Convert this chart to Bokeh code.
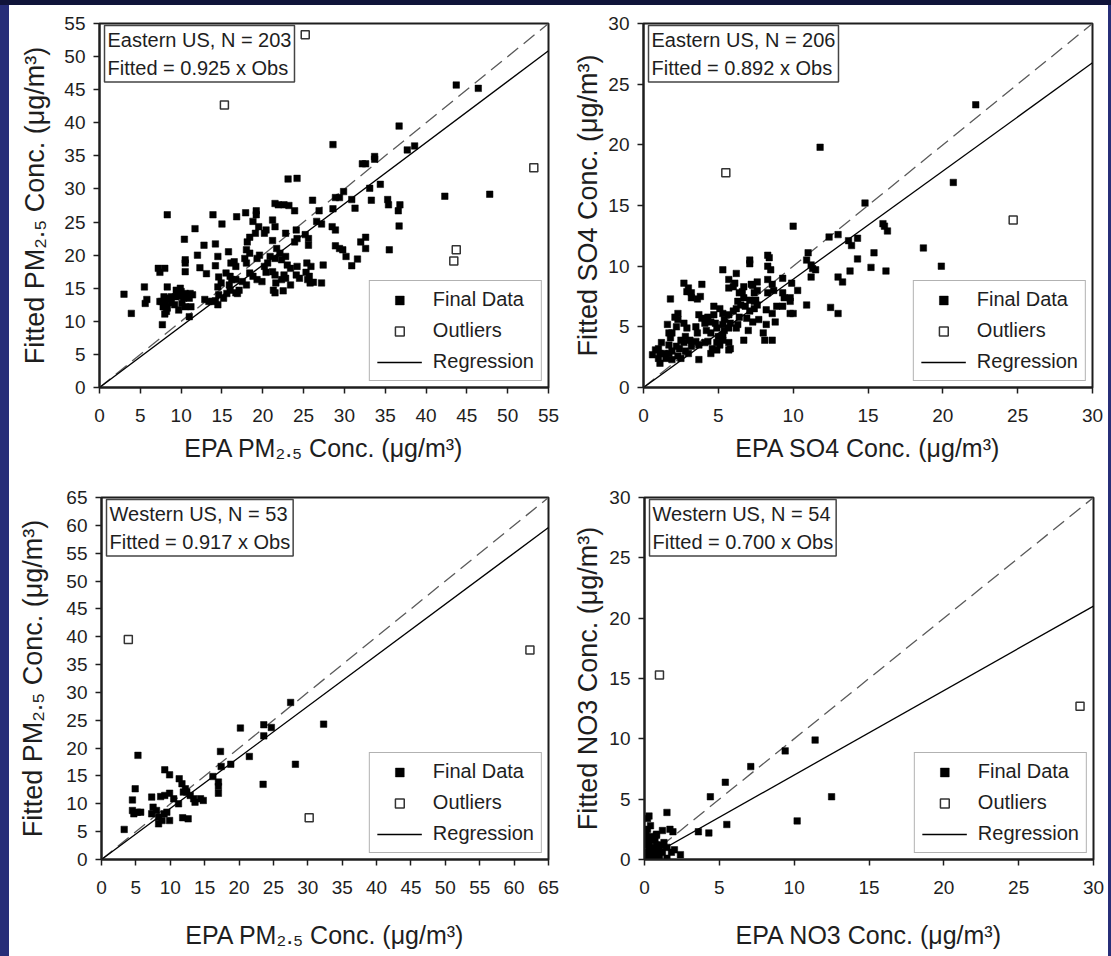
from bokeh.plotting import figure
from bokeh.layouts import column, row
from bokeh.models import (Range1d, FixedTicker, Label, Legend, LegendItem,
                          GlobalInlineStyleSheet)
from bokeh.embed import file_html
from bokeh.resources import INLINE

FONT = "Liberation Sans"

# ---------------- Panel A: Eastern US PM2.5 ----------------
pm_east_x = [43.7, 46.4, 36.7, 28.6, 37.7, 38.6, 33.7, 33.7, 32.2, 32.6,
             23.1, 24.2, 34.4, 33.1, 29.9, 47.8, 42.3, 28.9, 29.4, 30.9,
             26.1, 35.3, 33.3, 35.4, 36.8, 36.6, 31.3, 28.6, 26.9, 21.5,
             21.9, 22.6, 23.2, 23.9, 13.9, 8.3, 16.8, 17.9, 19.2, 19.2,
             15.0, 11.7, 21.2, 26.6, 27.2, 28.5, 28.9, 36.7, 21.5, 18.8,
             19.5, 20.4, 19.1, 20.2, 22.8, 24.1, 25.2, 24.2, 23.9, 18.4,
             18.1, 21.2, 25.6, 25.6, 32.6, 32.0, 10.4, 12.8, 14.2, 15.8,
             28.9, 29.4, 29.8, 32.6, 35.5, 21.7, 22.1, 18.0, 18.4, 22.8,
             22.3, 20.9, 21.5, 19.6, 19.3, 12.0, 14.5, 10.5, 10.5, 30.2,
             31.6, 30.9, 27.4, 16.1, 16.7, 17.8, 18.0, 14.2, 16.5, 20.2,
             20.6, 23.0, 23.4, 24.2, 25.4, 25.9, 12.3, 7.2, 8.0, 10.5,
             7.4, 13.1, 15.5, 16.0, 16.7, 18.4, 18.8, 19.3, 20.4, 21.2,
             21.5, 22.6, 22.8, 22.3, 24.1, 24.5, 25.3, 25.7, 25.5, 25.8,
             27.2, 26.2, 23.4, 19.9, 21.6, 14.6, 14.9, 14.5, 15.9, 16.2,
             17.5, 18.0, 17.1, 16.9, 15.6, 16.0, 16.7, 21.3, 21.5, 22.5,
             14.6, 14.2, 14.5, 15.2, 12.9, 13.4, 13.8, 11.1, 10.5, 10.0,
             9.9, 9.4, 8.3, 5.5, 3.0, 3.9, 5.8, 5.6, 7.9, 8.3,
             7.4, 8.8, 9.3, 9.6, 10.0, 10.3, 11.0, 11.4, 7.6, 8.1,
             7.8, 8.3, 8.2, 8.8, 9.2, 10.1, 10.5, 11.2, 11.0, 7.7,
             8.0, 9.7]
pm_east_y = [45.7, 45.2, 39.5, 36.7, 35.9, 36.5, 34.9, 34.5, 33.8, 33.8,
             31.5, 31.6, 30.7, 30.1, 29.6, 29.2, 28.9, 28.7, 28.7, 28.4,
             28.3, 28.4, 28.3, 27.6, 27.6, 26.7, 27.1, 27.0, 26.7, 27.8,
             27.6, 27.6, 27.5, 26.7, 26.1, 26.1, 25.8, 26.4, 26.7, 26.1,
             24.7, 24.0, 25.3, 25.1, 24.7, 24.3, 23.8, 24.4, 24.3, 25.1,
             24.3, 23.8, 23.3, 23.3, 23.3, 23.8, 23.1, 22.5, 22.0, 22.7,
             22.0, 22.2, 22.5, 21.5, 22.7, 22.0, 22.4, 21.5, 21.7, 20.5,
             21.4, 21.0, 20.8, 21.0, 20.8, 21.0, 20.3, 20.8, 20.3, 19.8,
             19.3, 19.8, 19.5, 20.0, 19.5, 20.0, 19.8, 19.3, 18.8, 19.8,
             19.4, 18.4, 18.5, 18.8, 18.3, 19.5, 18.8, 18.4, 19.0, 18.3,
             18.8, 18.5, 18.0, 18.3, 18.8, 18.3, 18.1, 18.0, 18.0, 17.5,
             17.4, 17.2, 17.3, 16.8, 16.3, 17.3, 16.8, 16.3, 17.4, 17.5,
             17.0, 17.0, 16.5, 16.3, 17.0, 16.5, 17.4, 16.8, 16.3, 15.8,
             15.8, 15.9, 15.5, 16.0, 15.8, 16.7, 15.8, 15.2, 15.5, 16.3,
             16.0, 15.5, 14.7, 14.2, 14.2, 14.7, 14.3, 14.7, 14.3, 14.6,
             14.0, 13.1, 12.5, 13.5, 13.3, 13.0, 13.0, 14.2, 14.2, 14.5,
             15.0, 14.7, 15.2, 15.2, 14.1, 11.2, 13.3, 12.7, 13.7, 13.5,
             13.0, 13.7, 13.7, 14.2, 13.8, 13.5, 13.5, 14.0, 13.0, 12.6,
             12.2, 12.0, 11.5, 12.8, 12.5, 12.7, 12.2, 12.2, 10.7, 9.5,
             11.1, 11.7]
pm_east_out_x = [25.2, 15.3, 53.2, 43.7, 43.4]
pm_east_out_y = [53.3, 42.7, 33.2, 20.8, 19.1]

# ---------------- Panel B: Eastern US SO4 ----------------
so4_east_x = [22.2, 11.8, 20.7, 14.8, 10.0, 16.0, 16.1, 16.3, 12.4, 13.0,
              13.7, 13.9, 14.3, 18.7, 11.0, 10.9, 15.4, 14.3, 19.9, 15.2,
              16.2, 13.8, 11.5, 11.2, 11.3, 11.2, 13.0, 13.3, 8.3, 8.4,
              7.1, 7.1, 5.3, 6.2, 5.7, 8.3, 8.5, 9.3, 9.9, 8.3,
              8.6, 7.6, 7.2, 8.3, 8.7, 9.8, 9.8, 8.9, 10.9, 12.5,
              13.0, 9.8, 10.0, 9.3, 8.2, 8.6, 8.8, 8.2, 8.0, 8.1,
              8.6, 7.4, 7.6, 7.4, 7.1, 6.8, 7.1, 6.4, 6.7, 6.0,
              5.7, 6.1, 6.3, 6.5, 6.2, 6.0, 5.7, 6.4, 6.9, 7.3,
              7.7, 7.0, 6.7, 6.2, 6.3, 5.8, 5.7, 5.4, 5.3, 5.4,
              5.3, 5.0, 5.3, 5.7, 5.8, 4.9, 4.6, 4.9, 4.8, 4.5,
              4.7, 5.1, 5.3, 4.7, 4.9, 5.1, 4.5, 4.2, 4.1, 4.3,
              3.9, 3.7, 3.8, 3.9, 3.6, 3.2, 3.0, 3.2, 2.7, 2.9,
              3.5, 3.6, 3.1, 3.5, 3.7, 3.7, 3.2, 3.0, 2.7, 2.4,
              2.8, 2.2, 1.9, 2.3, 1.9, 2.5, 1.8, 1.7, 1.9, 2.2,
              2.3, 2.3, 2.1, 1.6, 1.7, 1.8, 2.7, 2.9, 1.2, 1.0,
              1.1, 1.0, 1.1, 1.4, 1.5, 1.7, 0.8, 0.6, 2.5, 2.8,
              4.1, 4.3, 4.5, 5.7, 7.4, 7.5, 9.3, 9.4, 10.3, 7.3,
              7.6, 6.7, 6.6]
so4_east_y = [23.3, 19.8, 16.9, 15.2, 13.3, 13.5, 13.3, 12.9, 12.4, 12.6,
              12.1, 11.7, 12.3, 11.5, 11.1, 10.5, 11.1, 10.6, 10.0, 9.9,
              9.6, 9.6, 9.7, 10.1, 9.8, 9.1, 9.1, 8.7, 10.9, 10.7,
              10.5, 10.2, 9.7, 9.4, 8.9, 10.0, 9.7, 9.0, 8.6, 8.9,
              8.5, 8.7, 8.5, 7.8, 8.0, 7.4, 7.1, 6.7, 6.8, 6.6,
              6.1, 6.1, 6.1, 6.7, 6.4, 6.1, 5.4, 5.2, 4.5, 3.9,
              3.9, 7.1, 6.8, 6.5, 7.2, 6.7, 6.3, 7.8, 7.4, 8.3,
              8.2, 8.6, 7.1, 6.8, 6.5, 6.3, 6.0, 5.8, 5.7, 5.4,
              5.6, 4.7, 3.9, 4.9, 5.2, 5.3, 4.9, 5.6, 5.2, 4.7,
              4.3, 4.2, 3.9, 3.7, 3.2, 3.1, 3.2, 4.9, 5.3, 5.4,
              6.0, 6.5, 6.1, 6.7, 3.7, 3.5, 4.5, 4.7, 5.3, 5.8,
              5.7, 6.0, 7.5, 8.5, 7.3, 7.8, 8.2, 7.4, 8.6, 7.9,
              5.0, 4.5, 3.9, 3.8, 3.5, 2.3, 3.4, 2.8, 3.7, 3.2,
              3.0, 3.4, 3.0, 2.6, 2.3, 2.4, 4.1, 3.5, 4.5, 5.0,
              5.6, 6.1, 5.8, 5.2, 4.5, 7.3, 5.3, 4.9, 3.7, 3.2,
              2.8, 2.4, 2.0, 2.8, 2.4, 2.8, 3.1, 2.7, 3.9, 4.2,
              3.7, 3.8, 2.8, 3.1, 7.8, 7.2, 7.8, 7.4, 8.0, 8.4,
              8.0, 8.3, 7.9]
so4_east_out_x = [5.5, 24.7]
so4_east_out_y = [17.7, 13.8]

# ---------------- Panel C: Western US PM2.5 ----------------
pm_west_x = [27.5, 32.3, 20.2, 23.6, 23.6, 24.7, 21.5, 28.2, 18.8, 17.3,
             17.4, 23.5, 16.2, 17.0, 17.0, 17.0, 5.3, 9.2, 9.9, 11.3,
             11.7, 4.9, 4.5, 7.3, 8.6, 9.2, 9.9, 10.5, 11.2, 12.2,
             12.4, 12.9, 13.4, 13.6, 14.4, 14.8, 11.9, 4.5, 5.2, 5.7,
             4.7, 7.5, 8.0, 7.3, 8.3, 8.3, 9.1, 9.5, 9.9, 8.8,
             11.8, 12.6, 3.3]
pm_west_y = [28.2, 24.3, 23.6, 24.2, 22.2, 23.7, 18.5, 17.1, 17.1, 19.4,
             16.7, 13.5, 14.9, 13.9, 13.1, 11.9, 18.7, 16.1, 15.2, 14.5,
             13.6, 12.7, 10.7, 11.2, 11.3, 11.5, 11.9, 10.9, 10.0, 12.7,
             12.1, 11.5, 10.9, 10.3, 10.9, 10.6, 12.1, 8.8, 8.5, 8.5,
             8.2, 9.4, 8.8, 8.2, 7.6, 6.4, 8.2, 8.5, 7.0, 7.0,
             7.5, 7.3, 5.4]
pm_west_out_x = [3.9, 62.3, 30.2]
pm_west_out_y = [39.5, 37.6, 7.5]

# ---------------- Panel D: Western US NO3 ----------------
no3_west_x = [11.4, 9.4, 7.1, 5.4, 4.4, 12.5, 5.5, 10.2, 4.3, 3.6,
              1.5, 0.3, 0.2, 0.2, 0.1, 0.2, 0.8, 1.2, 1.7, 1.9,
              0.5, 0.8, 0.3, 0.2, 0.3, 0.6, 0.5, 1.0, 1.2, 1.5,
              1.5, 1.8, 2.4, 0.9, 0.1, 0.5, 0.7, 1.1, 0.3, 0.4,
              0.6, 0.4, 0.9, 1.3, 0.2, 0.7, 0.4, 0.6, 1.0, 0.3,
              2.0, 0.8]
no3_west_y = [9.9, 9.0, 7.7, 6.4, 5.2, 5.2, 2.9, 3.2, 2.2, 2.3,
              3.9, 3.6, 3.4, 2.5, 2.0, 1.5, 2.0, 2.4, 2.5, 2.3,
              1.6, 1.2, 1.0, 0.6, 0.4, 0.6, 0.2, 0.8, 0.6, 1.0,
              0.1, 0.6, 0.4, 0.4, 0.2, 0.5, 0.3, 1.2, 1.5, 1.9,
              1.0, 0.7, 0.9, 1.4, 1.2, 1.7, 2.8, 0.1, 0.2, 0.1,
              0.8, 2.1]
no3_west_out_x = [1.0, 29.1]
no3_west_out_y = [15.3, 12.7]

# ---------------- Panel meta ----------------
regions = ["Eastern US", "Eastern US", "Western US", "Western US"]
counts = [203, 206, 53, 54]
slopes = [0.925, 0.892, 0.917, 0.700]
axis_max = [55, 30, 65, 30]
tick_step = [5, 5, 5, 5]
x_titles = ["EPA PM\u2082.\u2085 Conc. (\u03bcg/m\u00b3)", "EPA SO4 Conc. (\u03bcg/m\u00b3)",
            "EPA PM\u2082.\u2085 Conc. (\u03bcg/m\u00b3)", "EPA NO3 Conc. (\u03bcg/m\u00b3)"]
y_titles = ["Fitted PM\u2082.\u2085 Conc. (\u03bcg/m\u00b3)", "Fitted SO4 Conc. (\u03bcg/m\u00b3)",
            "Fitted PM\u2082.\u2085 Conc. (\u03bcg/m\u00b3)", "Fitted NO3 Conc. (\u03bcg/m\u00b3)"]
legend_labels = ["Final Data", "Outliers", "Regression"]

INK = "#1e1e1e"


def make_panel(i, fx, fy, ox, oy, w, h, bl, br, bt, bb, ystand, xstand):
    vmax = axis_max[i]
    p = figure(width=w, height=h, x_range=Range1d(0, vmax), y_range=Range1d(0, vmax),
               output_backend="svg", toolbar_location=None,
               min_border_left=bl, min_border_right=br,
               min_border_top=bt, min_border_bottom=bb)
    p.grid.visible = False
    p.outline_line_color = INK
    p.outline_line_width = 2
    p.background_fill_color = "white"
    p.border_fill_color = "white"
    ticks = list(range(0, vmax + 1, tick_step[i]))
    for ax in (p.xaxis[0], p.yaxis[0]):
        ax.ticker = FixedTicker(ticks=ticks)
        ax.axis_line_color = INK
        ax.axis_line_width = 2
        ax.major_tick_in = 0
        ax.major_tick_out = 6
        ax.major_tick_line_color = INK
        ax.major_tick_line_width = 1.5
        ax.minor_tick_line_color = None
        ax.major_label_text_font = FONT
        ax.major_label_text_font_size = "19px"
        ax.major_label_text_color = INK
        ax.axis_label_text_font = FONT
        ax.axis_label_text_font_style = "normal"
        ax.axis_label_text_color = INK
    p.xaxis.axis_label_text_font_size = "25px"
    p.yaxis.axis_label_text_font_size = "27px"
    p.xaxis.axis_label = x_titles[i]
    p.yaxis.axis_label = y_titles[i]
    p.yaxis.major_label_standoff = 8
    p.xaxis.major_label_standoff = 15
    p.yaxis.axis_label_standoff = ystand
    p.xaxis.axis_label_standoff = xstand

    # 1:1 reference line and regression line
    p.line([0, vmax], [0, vmax], line_color="#5a5a5a", line_width=1.3, line_dash="14 7")
    rl = p.line([0, vmax], [0, slopes[i] * vmax], line_color="black", line_width=1.3)

    rf = p.scatter(fx, fy, marker="square", size=6.5, fill_color="black",
                   line_color="black", line_width=0.5)
    ro = p.scatter(ox, oy, marker="square", size=8, fill_color="white",
                   line_color="#333333", line_width=1.5)

    txt = "%s, N = %d\nFitted = %.3f x Obs" % (regions[i], counts[i], slopes[i])
    lab = Label(x=0, y=vmax, x_offset=5, y_offset=-2, anchor="top_left", text=txt,
                text_font=FONT, text_font_size="20px", text_color=INK,
                text_line_height=1.3, padding=3,
                background_fill_color="white", border_line_color="#444444",
                border_line_width=1.5)
    p.add_layout(lab)

    legend = Legend(items=[LegendItem(label=legend_labels[0], renderers=[rf]),
                           LegendItem(label=legend_labels[1], renderers=[ro]),
                           LegendItem(label=legend_labels[2], renderers=[rl])],
                    location="bottom_right", margin=6, padding=7, spacing=8,
                    glyph_width=45, glyph_height=22, label_height=22,
                    label_standoff=11, label_text_font=FONT,
                    label_text_font_size="20px", label_text_color=INK,
                    border_line_color="#666666", border_line_width=1.5,
                    background_fill_color="white", background_fill_alpha=1.0)
    p.add_layout(legend)
    return p


p1 = make_panel(0, pm_east_x, pm_east_y, pm_east_out_x, pm_east_out_y,
                561, 465, 90, 22, 18, 83, 11, 9)
p2 = make_panel(1, so4_east_x, so4_east_y, so4_east_out_x, so4_east_out_y,
                538, 465, 72, 16, 18, 83, 2, 9)
p3 = make_panel(2, pm_west_x, pm_west_y, pm_west_out_x, pm_west_out_y,
                561, 486, 92, 22, 27, 97, 15, 24)
p4 = make_panel(3, no3_west_x, no3_west_y, no3_west_out_x, no3_west_out_y,
                538, 486, 73, 15, 26, 96, 3, 24)

WHITE = {"background-color": "white"}
layout = column(row(p1, p2, styles=WHITE), row(p3, p4, styles=WHITE),
                styles=WHITE, margin=(5, 0, 0, 9),
                stylesheets=[GlobalInlineStyleSheet(
                    css="body { background: linear-gradient(to bottom, #10143a 0px, "
                        "#10143a 5px, #272e78 5px, #272e78 100%); }")])

open("out.html", "w").write(file_html(layout, INLINE))
